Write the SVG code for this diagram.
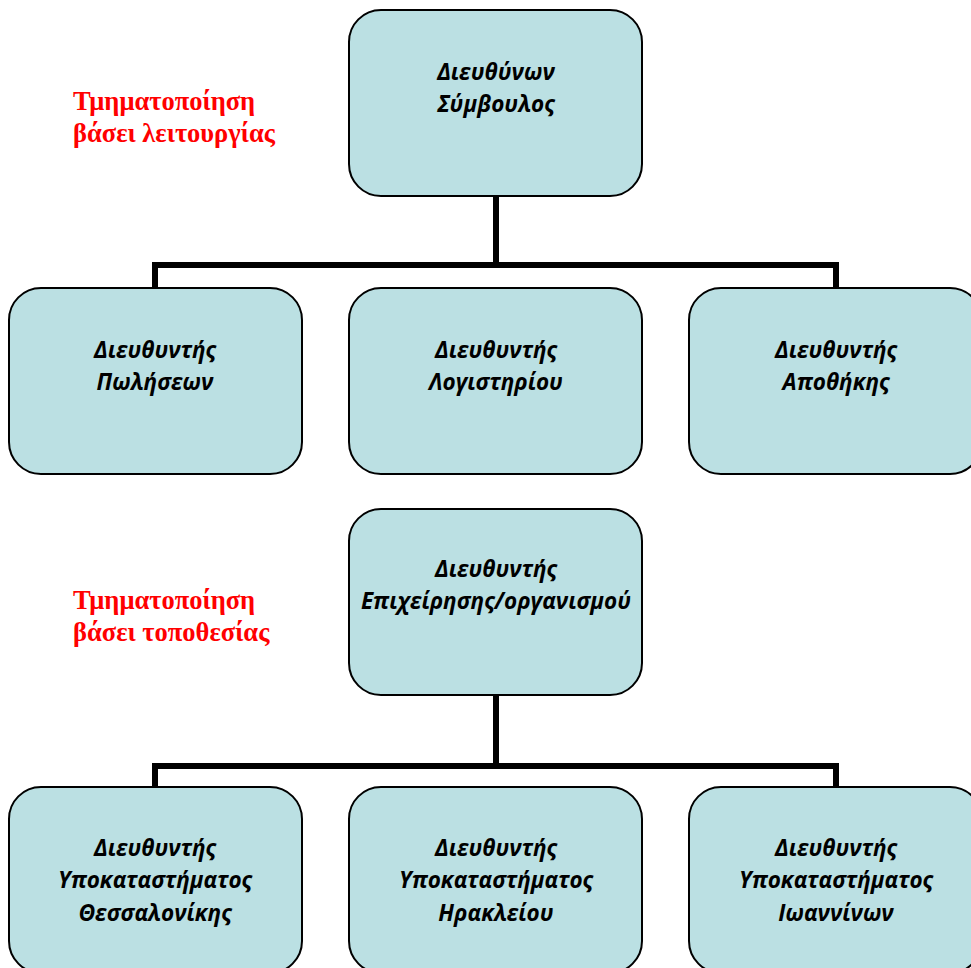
<svg xmlns="http://www.w3.org/2000/svg" width="971" height="968" viewBox="0 0 971 968">
<style>
.box{fill:#BBE0E3;stroke:#000;stroke-width:2}
.t{font-family:"Open Sans","Noto Sans",sans-serif;font-weight:bold;font-style:italic;font-size:22.5px;fill:#000;text-anchor:middle}
.r{font-family:"Liberation Serif","Times New Roman",serif;font-weight:bold;font-size:26.5px;fill:#FF0000}
.c{fill:none;stroke:#000;stroke-width:6}
</style>
<rect width="971" height="968" fill="#fff"/>
<g id="connectors">
<path class="c" d="M496,196 V265 M155,288 V265 H836 V288"/>
<path class="c" d="M496,694 V766 M155,787 V766 H836 V787"/>
</g>
<g id="label1"><text class="r" x="73" y="110">Τμηματοποίηση</text><text class="r" x="73" y="142">βάσει λειτουργίας</text></g>
<g id="label2"><text class="r" x="73" y="609">Τμηματοποίηση</text><text class="r" x="73" y="641">βάσει τοποθεσίας</text></g>
<g id="ceo"><rect class="box" x="349" y="10" width="293" height="186" rx="32"/><text class="t" x="496" y="80">Διευθύνων</text><text class="t" x="496" y="112">Σύμβουλος</text></g>
<g id="sales"><rect class="box" x="9" y="288" width="293" height="186" rx="32"/><text class="t" x="155" y="358">Διευθυντής</text><text class="t" x="155" y="390">Πωλήσεων</text></g>
<g id="accounting"><rect class="box" x="349" y="288" width="293" height="186" rx="32"/><text class="t" x="496" y="358">Διευθυντής</text><text class="t" x="496" y="390">Λογιστηρίου</text></g>
<g id="warehouse"><rect class="box" x="689" y="288" width="293" height="186" rx="32"/><text class="t" x="836" y="358">Διευθυντής</text><text class="t" x="836" y="390">Αποθήκης</text></g>
<g id="org"><rect class="box" x="349" y="509" width="293" height="186" rx="32"/><text class="t" x="496" y="577">Διευθυντής</text><text class="t" x="496" y="609">Επιχείρησης/οργανισμού</text></g>
<g id="thess"><rect class="box" x="9" y="787" width="293" height="186" rx="32"/><text class="t" x="155" y="856">Διευθυντής</text><text class="t" x="155" y="888">Υποκαταστήματος</text><text class="t" x="155" y="921">Θεσσαλονίκης</text></g>
<g id="her"><rect class="box" x="349" y="787" width="293" height="186" rx="32"/><text class="t" x="496" y="856">Διευθυντής</text><text class="t" x="496" y="888">Υποκαταστήματος</text><text class="t" x="496" y="921">Ηρακλείου</text></g>
<g id="ioa"><rect class="box" x="689" y="787" width="293" height="186" rx="32"/><text class="t" x="836" y="856">Διευθυντής</text><text class="t" x="836" y="888">Υποκαταστήματος</text><text class="t" x="836" y="921">Ιωαννίνων</text></g>
</svg>
